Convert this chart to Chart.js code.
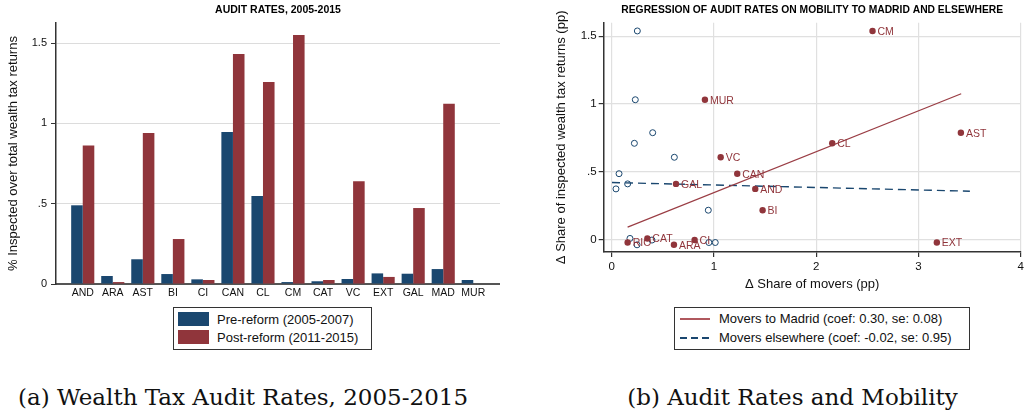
<!DOCTYPE html>
<html>
<head>
<meta charset="utf-8">
<script src="https://cdn.jsdelivr.net/npm/chart.js@4.4.1/dist/chart.umd.min.js"></script>
<style>
  html, body { margin: 0; padding: 0; background: #fff; }
  body { width: 1032px; height: 413px; overflow: hidden; position: relative; font-family: "Liberation Sans", Arial, sans-serif; }
  #wrapA { position: absolute; left: 0; top: 0; width: 500px; height: 300px; }
  #wrapB { position: absolute; left: 548px; top: 0; width: 484px; height: 296px; }
  .legend { position: absolute; border: 1px solid #333; background: #fff; font-size: 13px; color: #111; }
  .sw { position: absolute; }
  .lt { position: absolute; white-space: nowrap; height: 18px; line-height: 18px; }
  .caption { position: absolute; top: 382px; font-family: "DejaVu Serif", serif; font-size: 23px; line-height: 30px; text-align: center; color: #111; white-space: nowrap; }
</style>
</head>
<body>
<div id="wrapA"><canvas id="barChart"></canvas></div>
<div id="wrapB"><canvas id="scatterChart"></canvas></div>
<div class="legend" id="legendA" style="left:173px;top:307px;width:197px;height:41px;"></div>
<div class="legend" id="legendB" style="left:674px;top:307px;width:294px;height:41px;"></div>
<div class="caption" style="left:0;width:486px;">(a) Wealth Tax Audit Rates, 2005-2015</div>
<div class="caption" style="left:592px;width:401px;">(b) Audit Rates and Mobility</div>
<script>
// panel (a): audit rates by region
const regions = ['AND', 'ARA', 'AST', 'BI', 'CI', 'CAN', 'CL', 'CM', 'CAT', 'VC', 'EXT', 'GAL', 'MAD', 'MUR'];
const preReform = [0.49, 0.05, 0.154, 0.062, 0.029, 0.946, 0.548, 0.012, 0.017, 0.031, 0.066, 0.064, 0.093, 0.025];
const postReform = [0.863, 0.012, 0.94, 0.28, 0.025, 1.432, 1.257, 1.55, 0.025, 0.639, 0.044, 0.473, 1.122, null];
const barSeries = ['Pre-reform (2005-2007)', 'Post-reform (2011-2015)'];
const barTitle = 'AUDIT RATES, 2005-2015';
const barYTitle = '% Inspected over total wealth tax returns';
const yTicksA = [0, 0.5, 1, 1.5];

// panel (b): change in audit rate vs change in share of movers
const moverRegions = ['CM', 'MUR', 'AST', 'CL', 'VC', 'CAN', 'GAL', 'AND', 'BI', 'EXT', 'RIO', 'CAT', 'ARA', 'CI'];
const auditChange = [1.539, 1.032, 0.789, 0.711, 0.608, 0.487, 0.412, 0.375, 0.218, -0.020, -0.020, 0.010, -0.037, -0.002];
const moversMadrid = [2.551, 0.912, 3.415, 2.157, 1.066, 1.228, 0.629, 1.404, 1.476, 3.180, 0.156, 0.349, 0.609, 0.811];
const moversElsewhere = [0.251, 0.231, 0.401, 0.222, 0.613, 0.072, 0.156, 0.042, 0.945, 1.013, 0.951, 0.179, 0.248, 0.394];
const fitMadridX = [0.156, 3.418];
const fitMadridY = [0.093, 1.076];
const fitElseX = [0.003, 3.503];
const fitElseY = [0.422, 0.358];
const fitNames = ['Movers to Madrid (coef: 0.30, se: 0.08)', 'Movers elsewhere (coef: -0.02, se: 0.95)'];
const scatterTitle = 'REGRESSION OF AUDIT RATES ON MOBILITY TO MADRID AND ELSEWHERE';
const scatterXTitle = 'Δ Share of movers (pp)';
const scatterYTitle = 'Δ Share of inspected wealth tax returns (pp)';
const xTicksB = [0, 1, 2, 3, 4];
const yTicksB = [0, 0.5, 1, 1.5];

const navy = '#1a476f';
const maroon = '#90353b';
const family = '"Liberation Sans", Arial, sans-serif';
const fmt = v => (v === 0 ? '0' : String(v).replace(/^0\./, '.'));
// keep the plot frame where it is: no extra room for edge tick labels
const noPad = s => { s.paddingLeft = 0; s.paddingRight = 0; s.paddingTop = 0; s.paddingBottom = 0; };

Chart.defaults.font.family = family;

new Chart(document.getElementById('barChart'), {
  type: 'bar',
  data: {
    datasets: [
      { label: barSeries[0], data: preReform.map((v, i) => ({ x: i, y: v })), backgroundColor: navy, borderWidth: 0 },
      { label: barSeries[1], data: postReform.map((v, i) => ({ x: i, y: v })), backgroundColor: maroon, borderWidth: 0 }
    ]
  },
  options: {
    responsive: true,
    maintainAspectRatio: false,
    animation: false,
    datasets: { bar: { categoryPercentage: 0.77, barPercentage: 1 } },
    plugins: {
      legend: { display: false },
      tooltip: { enabled: false },
      title: { display: true, text: barTitle, fullSize: false, color: '#000', font: { size: 10.5, weight: 'bold' }, padding: { top: 3.5, bottom: 6.9 } }
    },
    scales: {
      x: {
        type: 'linear', min: -0.89, max: 13.89, offset: false,
        afterBuildTicks: s => { s.ticks = regions.map((_, i) => ({ value: i })); },
        ticks: { callback: v => regions[v], autoSkip: false, maxRotation: 0, padding: 3, color: '#111', font: { size: 10.5 } },
        grid: { display: false, drawTicks: false, offset: false },
        border: { color: '#555', width: 2 },
        afterFit: s => { s.height = 16; noPad(s); }
      },
      y: {
        min: 0, max: 1.625,
        afterBuildTicks: s => { s.ticks = yTicksA.map(v => ({ value: v })); },
        ticks: { callback: fmt, padding: 4, color: '#111', font: { size: 11 } },
        grid: { color: '#dcdcdc', tickColor: '#333', tickLength: 5 },
        border: { color: '#333', width: 1.5 },
        title: { display: true, text: barYTitle, color: '#111', font: { size: 13 }, padding: { top: 6, bottom: 0 } },
        afterFit: s => { s.width = 56; noPad(s); }
      }
    }
  }
});

// region codes next to the Madrid-mover points
const pointLabels = {
  id: 'pointLabels',
  afterDatasetsDraw(chart) {
    const ctx = chart.ctx;
    const meta = chart.getDatasetMeta(0);
    ctx.save();
    ctx.font = '10.5px ' + family;
    ctx.fillStyle = maroon;
    ctx.textBaseline = 'middle';
    meta.data.forEach((pt, i) => ctx.fillText(moverRegions[i], pt.x + 5, pt.y + 1));
    ctx.restore();
  }
};

new Chart(document.getElementById('scatterChart'), {
  type: 'scatter',
  data: {
    datasets: [
      { data: moversMadrid.map((x, i) => ({ x, y: auditChange[i] })), pointRadius: 3.2, pointBackgroundColor: maroon, pointBorderColor: maroon, pointBorderWidth: 0 },
      { data: moversElsewhere.map((x, i) => ({ x, y: auditChange[i] })), pointRadius: 3, pointBackgroundColor: 'rgba(0,0,0,0)', pointBorderColor: navy, pointBorderWidth: 1 },
      { type: 'line', data: fitMadridX.map((x, i) => ({ x, y: fitMadridY[i] })), borderColor: '#9a3d44', borderWidth: 1.2, pointRadius: 0, fill: false },
      { type: 'line', data: fitElseX.map((x, i) => ({ x, y: fitElseY[i] })), borderColor: navy, borderWidth: 1.4, borderDash: [8, 5], pointRadius: 0, fill: false }
    ]
  },
  options: {
    responsive: true,
    maintainAspectRatio: false,
    animation: false,
    layout: { padding: { right: 11.3 } },
    plugins: {
      legend: { display: false },
      tooltip: { enabled: false },
      title: { display: true, text: scatterTitle, fullSize: false, color: '#000', font: { size: 10.3, weight: 'bold' }, padding: { top: 3.5, bottom: 6.8 } }
    },
    scales: {
      x: {
        type: 'linear', min: -0.078, max: 4,
        afterBuildTicks: s => { s.ticks = xTicksB.map(v => ({ value: v })); },
        ticks: { callback: fmt, padding: 3, color: '#111', font: { size: 11.5 } },
        grid: { color: '#e0e0e0', lineWidth: 1.2, tickColor: '#333', tickLength: 5 },
        border: { color: '#333', width: 1.5 },
        title: { display: true, text: scatterXTitle, color: '#111', font: { size: 13 }, padding: { top: 4, bottom: 4 } },
        afterFit: s => { s.height = 44; noPad(s); }
      },
      y: {
        min: -0.09, max: 1.6,
        afterBuildTicks: s => { s.ticks = yTicksB.map(v => ({ value: v })); },
        ticks: { callback: fmt, padding: 2, color: '#111', font: { size: 11.5 } },
        grid: { color: '#e0e0e0', lineWidth: 1.2, tickColor: '#333', tickLength: 5 },
        border: { color: '#333', width: 1.5 },
        title: { display: true, text: scatterYTitle, color: '#111', font: { size: 13 }, padding: { top: 6, bottom: 0 } },
        afterFit: s => { s.width = 55.7; noPad(s); }
      }
    }
  },
  plugins: [pointLabels]
});

// boxed legends below each panel
const legA = document.getElementById('legendA');
[navy, maroon].forEach((c, i) => {
  const sw = document.createElement('div');
  sw.className = 'sw';
  sw.style.cssText = `left:4px;top:${4 + i * 18}px;width:31px;height:14px;background:${c};`;
  legA.appendChild(sw);
  const t = document.createElement('div');
  t.className = 'lt';
  t.style.cssText = `left:43px;top:${3 + i * 18}px;`;
  t.textContent = barSeries[i];
  legA.appendChild(t);
});

const legB = document.getElementById('legendB');
const lineStyles = [
  'background:#b0585e;',
  `background:repeating-linear-gradient(to right, ${navy} 0 7px, transparent 7px 11px);`
];
lineStyles.forEach((st, i) => {
  const sw = document.createElement('div');
  sw.className = 'sw';
  sw.style.cssText = `left:5px;top:${10 + i * 19}px;width:30px;height:1.5px;${st}`;
  legB.appendChild(sw);
  const t = document.createElement('div');
  t.className = 'lt';
  t.style.cssText = `left:44px;top:${2 + i * 19}px;`;
  t.textContent = fitNames[i];
  legB.appendChild(t);
});
</script>
</body>
</html>
